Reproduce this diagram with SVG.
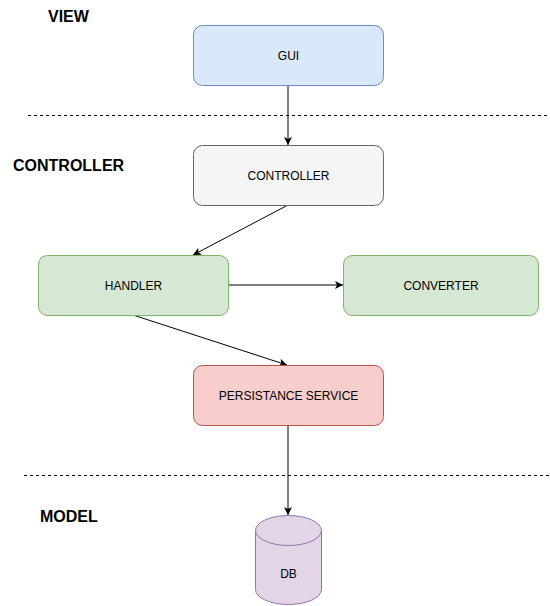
<svg xmlns="http://www.w3.org/2000/svg" width="550" height="606" viewBox="0 0 550 606">
<defs>
<marker id="arr" markerUnits="userSpaceOnUse" markerWidth="10" markerHeight="10" refX="8" refY="4" orient="auto" viewBox="0 0 10 8">
<path d="M0,0 L8,4 L0,8 L2,4 Z" fill="#000" stroke="none"/>
</marker>
<style>
.lbl{font-family:"Liberation Sans",Arial,sans-serif;font-weight:bold;font-size:16px;fill:#000}
.txt{font-family:"Liberation Sans",Arial,sans-serif;font-size:12px;fill:#000;text-anchor:middle}
.sep{stroke:#000;stroke-width:1;stroke-dasharray:3 3;fill:none}
.edge{stroke:#000;stroke-width:1;fill:none;marker-end:url(#arr)}
.blue{fill:#dae8fc;stroke:#6c8ebf}
.gray{fill:#f5f5f5;stroke:#666666}
.green{fill:#d5e8d4;stroke:#82b366}
.red{fill:#f8cecc;stroke:#b85450}
.purple{fill:#e1d5e7;stroke:#9673a6}
</style>
</defs>
<rect width="550" height="606" fill="#fff"/>
<g id="layers">
<text class="lbl" x="48" y="22">VIEW</text>
<text class="lbl" x="13" y="171">CONTROLLER</text>
<text class="lbl" x="40" y="522">MODEL</text>
<line class="sep" x1="28" y1="115.5" x2="550" y2="115.5"/>
<line class="sep" x1="24" y1="475.5" x2="550" y2="475.5"/>
</g>
<g id="connectors">
<line class="edge" x1="288" y1="85" x2="288" y2="145"/>
<line class="edge" x1="288" y1="205" x2="193" y2="255"/>
<line class="edge" x1="228" y1="285" x2="343" y2="285"/>
<line class="edge" x1="133" y1="315" x2="287" y2="365"/>
<line class="edge" x1="288" y1="425" x2="288" y2="515"/>
</g>
<g id="gui">
<rect class="blue" x="193.5" y="25.5" width="190" height="60" rx="9"/>
<text class="txt" x="288.5" y="60">GUI</text>
</g>
<g id="controller">
<rect class="gray" x="193.5" y="145.5" width="190" height="60" rx="9"/>
<text class="txt" x="288.5" y="180">CONTROLLER</text>
</g>
<g id="handler">
<rect class="green" x="38.5" y="255.5" width="190" height="60" rx="9"/>
<text class="txt" x="133.5" y="290">HANDLER</text>
</g>
<g id="converter">
<rect class="green" x="343.5" y="255.5" width="195" height="60" rx="9"/>
<text class="txt" x="441" y="290">CONVERTER</text>
</g>
<g id="persistance">
<rect class="red" x="193.5" y="365.5" width="190" height="60" rx="9"/>
<text class="txt" x="288.5" y="400">PERSISTANCE SERVICE</text>
</g>
<g id="db">
<path class="purple" d="M255.5,530.5 A33,15 0 0 1 321.5,530.5 L321.5,589.5 A33,15 0 0 1 255.5,589.5 Z"/>
<path class="purple" d="M255.5,530.5 A33,15 0 0 0 321.5,530.5" style="fill:none"/>
<text class="txt" x="288.5" y="578">DB</text>
</g>
</svg>
